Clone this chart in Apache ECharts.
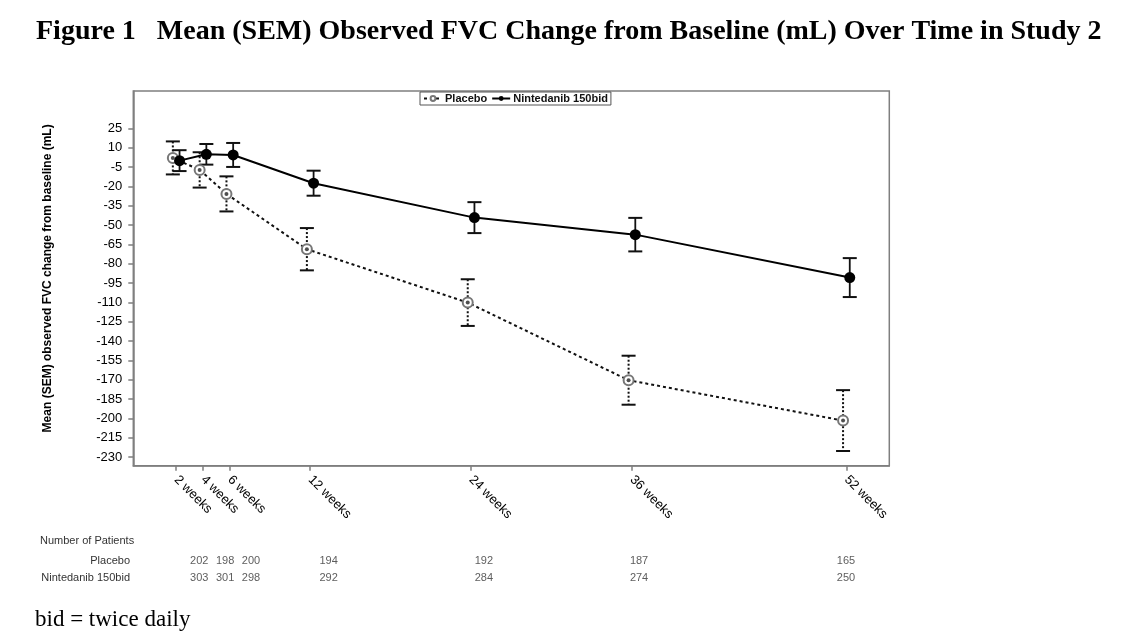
<!DOCTYPE html>
<html>
<head>
<meta charset="utf-8">
<script src="https://cdn.jsdelivr.net/npm/echarts@6/dist/echarts.min.js"></script>
<style>
html,body{margin:0;padding:0;background:#fff;}
#chart{width:1142px;height:642px;}
</style>
</head>
<body>
<div id="chart"></div>
<script>
const weeks = [2, 4, 6, 12, 24, 36, 52];
const xTickLabels = ['2 weeks', '4 weeks', '6 weeks', '12 weeks', '24 weeks', '36 weeks', '52 weeks'];
const yTicks = [25, 10, -5, -20, -35, -50, -65, -80, -95, -110, -125, -140, -155, -170, -185, -200, -215, -230];
const seriesNames = ['Placebo', 'Nintedanib 150bid'];
const placeboMean = [2, -7.3, -25.9, -68.8, -110.2, -170.4, -201.7];
const placeboSEM = [12.8, 13.7, 13.6, 16.4, 18.1, 19, 23.6];
const nintMean = [-0.1, 4.8, 4.3, -17.6, -44.3, -57.5, -90.8];
const nintSEM = [8.1, 8, 9.3, 9.7, 12, 13, 15.1];
const placeboN = [202, 198, 200, 194, 192, 187, 165];
const nintN = [303, 301, 298, 292, 284, 274, 250];

const offset = 0.25; // small horizontal cluster offset so groups do not overlap
const pts = (mean, d) => weeks.map((w, i) => [w + d, mean[i]]);
const bars = (mean, sem, d) => weeks.map((w, i) => [w + d, mean[i] - sem[i], mean[i] + sem[i]]);

function errRender(dashed) {
  return function (params, api) {
    const x = api.value(0), lo = api.value(1), hi = api.value(2);
    const p1 = api.coord([x, hi]), p2 = api.coord([x, lo]);
    const w = 7;
    const capStyle = { stroke: '#111', lineWidth: 2 };
    const vStyle = { stroke: '#111', lineWidth: dashed ? 2 : 1.8, lineDash: dashed ? [2, 2] : null };
    return {
      type: 'group',
      children: [
        { type: 'line', shape: { x1: p1[0], y1: p1[1], x2: p2[0], y2: p2[1] }, style: vStyle },
        { type: 'line', shape: { x1: p1[0] - w, y1: p1[1], x2: p1[0] + w, y2: p1[1] }, style: capStyle },
        { type: 'line', shape: { x1: p2[0] - w, y1: p2[1], x2: p2[0] + w, y2: p2[1] }, style: capStyle }
      ]
    };
  };
}

const chart = echarts.init(document.getElementById('chart'), null, { renderer: 'canvas' });
const labelFont = 'Liberation Sans, Arial, sans-serif';

chart.setOption({
  animation: false,
  backgroundColor: '#fff',
  graphic: [
    { type: 'text', left: 36, top: 18, style: { text: 'Figure 1   Mean (SEM) Observed FVC Change from Baseline (mL) Over Time in Study 2', font: 'bold 28px "Liberation Serif", "Times New Roman", serif', fill: '#000' } },
    { type: 'text', left: 40, top: 535, style: { text: 'Number of Patients', font: '11px "Liberation Sans", Arial, sans-serif', fill: '#333' } },
    { type: 'text', left: 35, top: 608, style: { text: 'bid = twice daily', font: '23px "Liberation Serif", "Times New Roman", serif', fill: '#000' } }
  ],
  legend: {
    data: seriesNames,
    left: 420, top: 92,
    orient: 'horizontal',
    itemWidth: 18, itemHeight: 6, itemGap: 4,
    padding: [1, 3, 1, 3],
    borderColor: '#555', borderWidth: 1,
    textStyle: { fontFamily: labelFont, fontSize: 11, fontWeight: 'bold', color: '#111', padding: [0, 0, 0, -2] }
  },
  grid: [
    { left: 133.3, top: 91, right: 252.7, bottom: 176.3, show: true, borderColor: '#7f7f7f', borderWidth: 1.5, backgroundColor: 'transparent' },
    { left: 199.3, width: 646.7, top: 552, height: 34 }
  ],
  xAxis: [
    {
      type: 'value', gridIndex: 0, min: -1.2, max: 55.2,
      splitLine: { show: false },
      axisLine: { show: true, onZero: false, lineStyle: { color: '#7f7f7f', width: 1.5 } },
      axisTick: { show: true, length: 5, customValues: weeks, lineStyle: { color: '#7f7f7f', width: 1.5 } },
      axisLabel: {
        customValues: weeks, rotate: -45, margin: 12,
        fontFamily: labelFont, fontSize: 13, color: '#000',
        formatter: v => xTickLabels[weeks.indexOf(v)]
      }
    },
    { type: 'value', gridIndex: 1, min: 2, max: 52, show: false }
  ],
  yAxis: [
    {
      type: 'value', gridIndex: 0, min: -236.7, max: 53.9,
      name: 'Mean (SEM) observed FVC change from baseline (mL)',
      nameLocation: 'middle', nameGap: 80,
      nameTextStyle: { fontFamily: labelFont, fontSize: 12, fontWeight: 'bold', color: '#000' },
      splitLine: { show: false },
      axisLine: { show: true, onZero: false, lineStyle: { color: '#7f7f7f', width: 1.5 } },
      axisTick: { show: true, length: 5, customValues: yTicks, lineStyle: { color: '#7f7f7f', width: 1.5 } },
      axisLabel: { customValues: yTicks, margin: 11, fontFamily: labelFont, fontSize: 13, color: '#000' }
    },
    {
      type: 'category', gridIndex: 1, inverse: true, data: seriesNames,
      axisLine: { show: false }, axisTick: { show: false }, splitLine: { show: false },
      axisLabel: { margin: 69.3, fontFamily: labelFont, fontSize: 11, color: '#333' }
    }
  ],
  series: [
    {
      name: 'Placebo SEM', type: 'custom', xAxisIndex: 0, yAxisIndex: 0, z: 1,
      renderItem: errRender(true), data: bars(placeboMean, placeboSEM, -offset), silent: true
    },
    {
      name: 'Nintedanib SEM', type: 'custom', xAxisIndex: 0, yAxisIndex: 0, z: 1,
      renderItem: errRender(false), data: bars(nintMean, nintSEM, offset), silent: true
    },
    {
      name: 'Placebo', type: 'line', xAxisIndex: 0, yAxisIndex: 0, z: 3,
      data: pts(placeboMean, -offset),
      symbol: 'emptyCircle', symbolSize: 10,
      lineStyle: { color: '#111', width: 2, type: [3, 3] },
      itemStyle: { color: '#777', borderWidth: 1.2 }
    },
    {
      name: 'Placebo center', type: 'scatter', xAxisIndex: 0, yAxisIndex: 0, z: 5,
      data: pts(placeboMean, -offset), symbolSize: 4, itemStyle: { color: '#222' }, silent: true
    },
    {
      name: 'Nintedanib 150bid', type: 'line', xAxisIndex: 0, yAxisIndex: 0, z: 3,
      data: pts(nintMean, offset),
      symbol: 'circle', symbolSize: 11,
      lineStyle: { color: '#000', width: 2 },
      itemStyle: { color: '#000' }
    },
    {
      name: 'N Placebo', type: 'scatter', xAxisIndex: 1, yAxisIndex: 1, symbolSize: 0, silent: true,
      data: weeks.map((w, i) => [w, seriesNames[0], placeboN[i]]),
      label: { show: true, position: 'inside', formatter: p => String(p.value[2]), fontFamily: labelFont, fontSize: 11, color: '#333' }
    },
    {
      name: 'N Nintedanib', type: 'scatter', xAxisIndex: 1, yAxisIndex: 1, symbolSize: 0, silent: true,
      data: weeks.map((w, i) => [w, seriesNames[1], nintN[i]]),
      label: { show: true, position: 'inside', formatter: p => String(p.value[2]), fontFamily: labelFont, fontSize: 11, color: '#333' }
    }
  ]
});
</script>
</body>
</html>
